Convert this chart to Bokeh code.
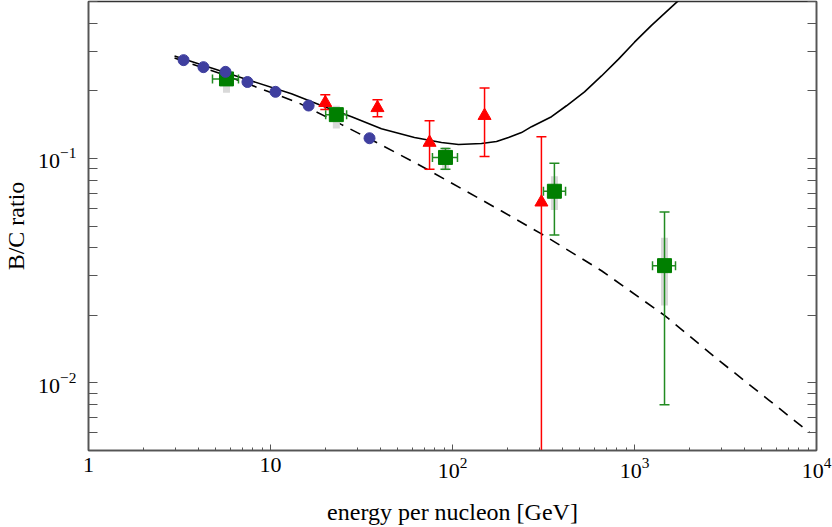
from bokeh.plotting import figure
from bokeh.models import Range1d, FixedTicker, LogTickFormatter, LogAxis, CustomJSTickFormatter
from bokeh.embed import file_html
from bokeh.resources import INLINE

# ---- axis ticks ----
x_major_ticks = [1, 10, 100, 1000, 10000]
x_minor_ticks = [2, 3, 4, 5, 6, 7, 8, 9,
                 20, 30, 40, 50, 60, 70, 80, 90,
                 200, 300, 400, 500, 600, 700, 800, 900,
                 2000, 3000, 4000, 5000, 6000, 7000, 8000, 9000]
y_major_ticks = [0.01, 0.1]
y_minor_ticks = [0.005, 0.006, 0.007, 0.008, 0.009,
                 0.02, 0.03, 0.04, 0.05, 0.06, 0.07, 0.08, 0.09,
                 0.2, 0.3, 0.4, 0.5]

# ---- model curves ----
solid_E = [2.97, 4.74, 7.86, 13.04, 19.8, 27.9, 40.7, 61.8, 87.0, 107.9, 144.3,
           174.5, 203.1, 239.4, 271.8, 349.9, 423.0, 531.3, 658.8, 817.1, 1000,
           1240, 1701, 2057]
solid_R = [0.2856, 0.2527, 0.2214, 0.1940, 0.1699, 0.1534, 0.1357, 0.1239, 0.1177,
           0.1153, 0.1165, 0.1189, 0.1239, 0.1303, 0.1385, 0.1534, 0.1716, 0.1979,
           0.2330, 0.2770, 0.3294, 0.3916, 0.4952, 0.5597]

dashed_E = [2.97, 5.38, 8.59, 14.25, 24.6, 39.2, 63.4, 185.9, 308.3, 658.8,
            1461, 2894, 5448, 9154]
dashed_R = [0.2798, 0.2377, 0.2061, 0.1769, 0.1414, 0.1165, 0.0950, 0.0583,
            0.0461, 0.0316, 0.0200, 0.01264, 0.00841, 0.00601]

# ---- blue circles ----
blue_E = [3.33, 4.28, 5.66, 7.47, 10.65, 16.2, 35.0]
blue_R = [0.274, 0.255, 0.243, 0.219, 0.198, 0.172, 0.123]

# ---- red triangles ----
red_E = [20.0, 38.7, 74.8, 150.0, 308.0]
red_R = [0.177, 0.168, 0.1177, 0.155, 0.0638]
red_lo = [0.165, 0.1535, 0.0894, 0.102, 0.001]
red_hi = [0.192, 0.1824, 0.1472, 0.206, 0.125]

# ---- green squares ----
green_E = [5.73, 23.0, 91.5, 363.0, 1462.0]
green_R = [0.226, 0.1567, 0.101, 0.0714, 0.0333]
green_E_lo = [4.80, 20.1, 77.6, 316.0, 1256.0]
green_E_hi = [6.67, 26.2, 106.5, 418.0, 1680.0]
green_stat_lo = [0.217, 0.151, 0.0894, 0.0456, 0.0080]
green_stat_hi = [0.235, 0.163, 0.1107, 0.0951, 0.0577]
green_sys_lo = [0.196, 0.1358, 0.0885, 0.0589, 0.0221]
green_sys_hi = [0.253, 0.1718, 0.1120, 0.0832, 0.0443]

FONT = "Liberation Serif"
AXIS_COL = "#555555"

p = figure(width=832, height=527, x_axis_type="log", y_axis_type="log",
           x_range=Range1d(1, 1e4), y_range=Range1d(0.005, 0.5),
           output_backend="svg", toolbar_location=None,
           min_border_left=87, min_border_right=16, min_border_top=1,
           min_border_bottom=76)

p.grid.visible = False
p.outline_line_color = "#333333"
p.outline_line_width = 1.5
p.background_fill_color = "white"
p.border_fill_color = "white"

# x axis
xa = p.xaxis[0]
xa.ticker = FixedTicker(ticks=x_major_ticks, minor_ticks=x_minor_ticks)
xa.formatter = LogTickFormatter(min_exponent=2)
xa.axis_label = "energy per nucleon [GeV]"

# y axis
ya = p.yaxis[0]
ya.ticker = FixedTicker(ticks=y_major_ticks, minor_ticks=y_minor_ticks)
ya.formatter = LogTickFormatter()
ya.axis_label = "B/C ratio"

for ax in (xa, ya):
    ax.axis_line_color = AXIS_COL
    ax.axis_line_width = 1.5
    ax.major_tick_line_color = AXIS_COL
    ax.minor_tick_line_color = AXIS_COL
    ax.major_tick_out = 0
    ax.minor_tick_out = 0
    ax.major_label_text_font = FONT
    ax.major_label_text_font_size = "22px"
    ax.major_label_text_color = "black"
    ax.axis_label_text_font = FONT
    ax.axis_label_text_font_size = "24px"
    ax.axis_label_text_font_style = "normal"
    ax.axis_label_text_color = "black"

xa.major_tick_in = 6
xa.minor_tick_in = 3
xa.major_label_standoff = 7
xa.axis_label_standoff = 18
ya.major_tick_in = 9
ya.minor_tick_in = 9
ya.major_label_standoff = 12
ya.axis_label_standoff = 6

ra = LogAxis(ticker=FixedTicker(ticks=y_major_ticks, minor_ticks=y_minor_ticks),
             formatter=CustomJSTickFormatter(code="return ' '"))
ra.major_label_text_font_size = "2px"
ra.major_label_text_alpha = 0
ra.axis_line_color = AXIS_COL
ra.axis_line_width = 1.5
ra.major_tick_line_color = AXIS_COL
ra.minor_tick_line_color = AXIS_COL
ra.major_tick_out = 0
ra.minor_tick_out = 0
ra.major_tick_in = 9
ra.minor_tick_in = 9
ra.major_label_standoff = 0
p.add_layout(ra, "right")

# curves
p.line(solid_E, solid_R, line_color="black", line_width=1.6)
p.line(dashed_E, dashed_R, line_color="black", line_width=1.6, line_dash="11 8")

# red triangles with error bars
RED = "#ff0000"
p.segment(red_E, red_lo, red_E, red_hi, line_color=RED, line_width=1.5)
p.scatter(red_E, red_hi, marker="dash", size=10, line_color=RED, line_width=1.5)
p.scatter(red_E, red_lo, marker="dash", size=10, line_color=RED, line_width=1.5)
p.scatter(red_E, red_R, marker="triangle", size=13, fill_color=RED, line_color=RED)

# green squares with systematic (gray) and statistical error bars
GREEN_BAR = "#228b22"
GREEN = "#007f00"
p.segment(green_E, green_sys_lo, green_E, green_sys_hi, line_color="#d9d9d9",
          line_width=7, line_cap="butt")
p.segment(green_E, green_stat_lo, green_E, green_stat_hi, line_color=GREEN_BAR,
          line_width=1.5)
p.scatter(green_E, green_stat_hi, marker="dash", size=10, line_color=GREEN_BAR,
          line_width=1.5)
p.scatter(green_E, green_stat_lo, marker="dash", size=10, line_color=GREEN_BAR,
          line_width=1.5)
p.segment(green_E_lo, green_R, green_E_hi, green_R, line_color=GREEN_BAR,
          line_width=1.5)
p.scatter(green_E_lo, green_R, marker="dash", size=9, angle=1.5708,
          line_color=GREEN_BAR, line_width=1.5)
p.scatter(green_E_hi, green_R, marker="dash", size=9, angle=1.5708,
          line_color=GREEN_BAR, line_width=1.5)
p.scatter(green_E, green_R, marker="square", size=14, fill_color=GREEN,
          line_color=GREEN)

# blue circles (drawn on top)
p.scatter(blue_E, blue_R, marker="circle", size=11, fill_color="#3f3f9f",
          line_color="#3f3f9f")

open("out.html", "w").write(file_html(p, INLINE))
